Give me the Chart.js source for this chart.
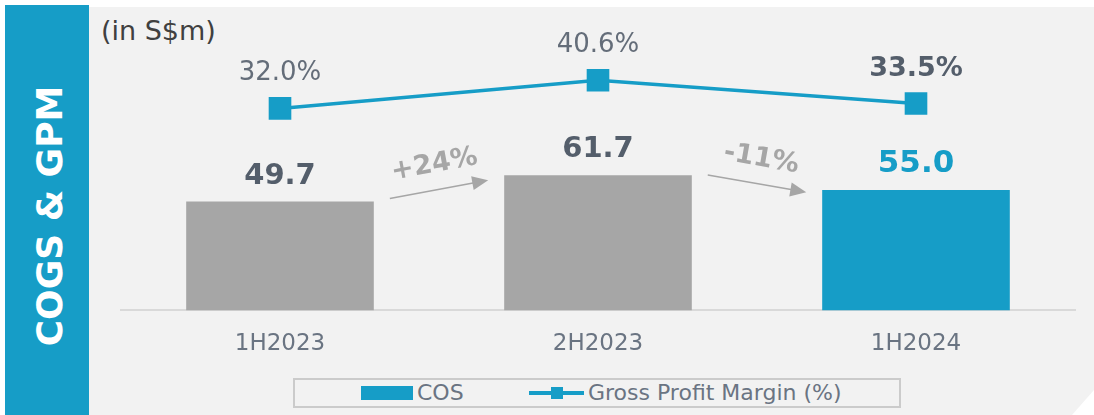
<!DOCTYPE html>
<html>
<head>
<meta charset="utf-8">
<script src="https://cdn.jsdelivr.net/npm/chart.js@4.4.1/dist/chart.umd.min.js"></script>
<style>
body { margin: 0; background: #fff; font-family: "DejaVu Sans", Verdana, sans-serif; }
#wrap { position: relative; width: 1094px; height: 415px; overflow: hidden; }
#side { position: absolute; left: 5px; top: 5px; width: 84px; height: 410px; background: #169dc7; }
#side span { position: absolute; left: 44px; top: 211px; transform: translate(-50%, -50%) rotate(-90deg);
  color: #fff; font-weight: bold; font-size: 36px; white-space: nowrap; }
#bg { position: absolute; left: 89px; top: 7px; width: 1005px; height: 408px; background: #f2f2f2;
  clip-path: polygon(0 0, 100% 0, 100% 383px, 983px 100%, 0 100%); }
#unit { position: absolute; left: 101px; top: 17px; font-size: 27px; line-height: 28px; color: #404040; }
#chartBox { position: absolute; left: 0; top: 0; width: 1094px; height: 415px; }
#legend { position: absolute; left: 293px; top: 378px; width: 608px; height: 30px; box-sizing: border-box;
  border: 2px solid #cbcbcb; background: #f2f2f2; }
#legend .sw { position: absolute; top: 6px; width: 52px; height: 14px; background: #169dc7; }
#legend .ln { position: absolute; top: 11px; width: 55px; height: 4px; background: #169dc7; }
#legend .mk { position: absolute; top: 7px; width: 12px; height: 12px; background: #169dc7; }
#legend .tx { position: absolute; top: 0; font-size: 22px; line-height: 26px; color: #6a7482; }
</style>
</head>
<body>
<div id="wrap">
  <div id="side"><span>COGS &amp; GPM</span></div>
  <div id="bg"></div>
  <div id="unit">(in S$m)</div>
  <div id="legend">
    <div class="sw" style="left:66px"></div>
    <div class="tx" style="left:122px">COS</div>
    <div class="ln" style="left:234px"></div>
    <div class="mk" style="left:256px"></div>
    <div class="tx" style="left:293px">Gross Profit Margin (%)</div>
  </div>
  <div id="chartBox"><canvas id="chart"></canvas></div>
</div>
<script>
const categories = ["1H2023", "2H2023", "1H2024"];
const cosValues = [49.7, 61.7, 55.0];
const gpmValues = [32.0, 40.6, 33.5];

const blue = "#169dc7";
const grey = "#a6a6a6";
const darkText = "#545e6b";
const softText = "#646d79";
const barColors = [grey, grey, blue];

// labels above bars and points, plus the growth arrows between bars
const labelPlugin = {
    id: "valueLabels",
    afterDatasetsDraw(chart) {
        const ctx = chart.ctx;
        const bars = chart.getDatasetMeta(0).data;
        const pts = chart.getDatasetMeta(1).data;
        const last = categories.length - 1;
        ctx.save();
        ctx.textAlign = "center";
        ctx.textBaseline = "alphabetic";

        bars.forEach((b, i) => {
            ctx.font = (i === last ? "bold 31px" : "bold 29px") + " 'DejaVu Sans'";
            ctx.fillStyle = i === last ? blue : darkText;
            ctx.fillText(cosValues[i].toFixed(1), b.x, b.y - 18);
        });

        pts.forEach((p, i) => {
            ctx.font = (i === last ? "bold 27px" : "26px") + " 'DejaVu Sans'";
            ctx.fillStyle = i === last ? darkText : softText;
            ctx.fillText(gpmValues[i].toFixed(1) + "%", p.x, p.y - 28);
        });

        for (let i = 0; i < bars.length - 1; i++) {
            const change = (cosValues[i + 1] - cosValues[i]) / cosValues[i] * 100;
            const txt = (change > 0 ? "+" : "-") + Math.abs(Math.round(change)) + "%";
            const ang = (change > 0 ? -10.5 : 10) * Math.PI / 180;
            const mx = (bars[i].x + bars[i + 1].x) / 2;
            const my = (bars[i].y + bars[i + 1].y) / 2 + 1;
            const dx = Math.cos(ang), dy = Math.sin(ang);
            const sx = mx - dx * 50, sy = my - dy * 50;
            const ex = mx + dx * 50, ey = my + dy * 50;
            ctx.strokeStyle = grey;
            ctx.fillStyle = grey;
            ctx.lineWidth = 1.5;
            ctx.beginPath();
            ctx.moveTo(sx, sy);
            ctx.lineTo(ex - dx * 14, ey - dy * 14);
            ctx.stroke();
            ctx.beginPath();
            ctx.moveTo(ex, ey);
            ctx.lineTo(ex - dx * 16 - dy * 7, ey - dy * 16 + dx * 7);
            ctx.lineTo(ex - dx * 16 + dy * 7, ey - dy * 16 - dx * 7);
            ctx.closePath();
            ctx.fill();

            ctx.save();
            ctx.translate(mx + dy * 25, my - dx * 25);
            ctx.rotate(ang);
            ctx.font = "bold 27px 'DejaVu Sans'";
            ctx.textBaseline = "middle";
            ctx.fillText(txt, 0, 0);
            ctx.restore();
        }
        ctx.restore();
    }
};

const chart = new Chart(document.getElementById("chart"), {
    type: "bar",
    data: {
        labels: categories,
        datasets: [
            {
                type: "bar",
                label: "COS",
                data: cosValues,
                backgroundColor: barColors,
                categoryPercentage: 1,
                barPercentage: 0.59,
                yAxisID: "y",
                order: 2,
            },
            {
                type: "line",
                label: "Gross Profit Margin (%)",
                data: gpmValues,
                borderColor: blue,
                backgroundColor: blue,
                borderWidth: 3.5,
                pointStyle: "rect",
                pointRadius: 16,
                pointBorderWidth: 0,
                pointBackgroundColor: blue,
                yAxisID: "y2",
                order: 1,
            },
        ],
    },
    options: {
        responsive: true,
        maintainAspectRatio: false,
        animation: false,
        layout: { padding: { left: 121, right: 19, top: 20, bottom: 37 } },
        plugins: { legend: { display: false }, tooltip: { enabled: false } },
        scales: {
            x: {
                grid: { display: false, drawTicks: false },
                border: { display: true, color: "#d9d9d9", width: 2 },
                ticks: { color: "#6a7482", font: { family: "DejaVu Sans", size: 23 }, padding: 20 },
            },
            y: { display: false, min: 0, max: 132.6 },
            y2: { display: false, min: -29.73, max: 59.03 },
        },
    },
    plugins: [labelPlugin],
});
</script>
</body>
</html>
